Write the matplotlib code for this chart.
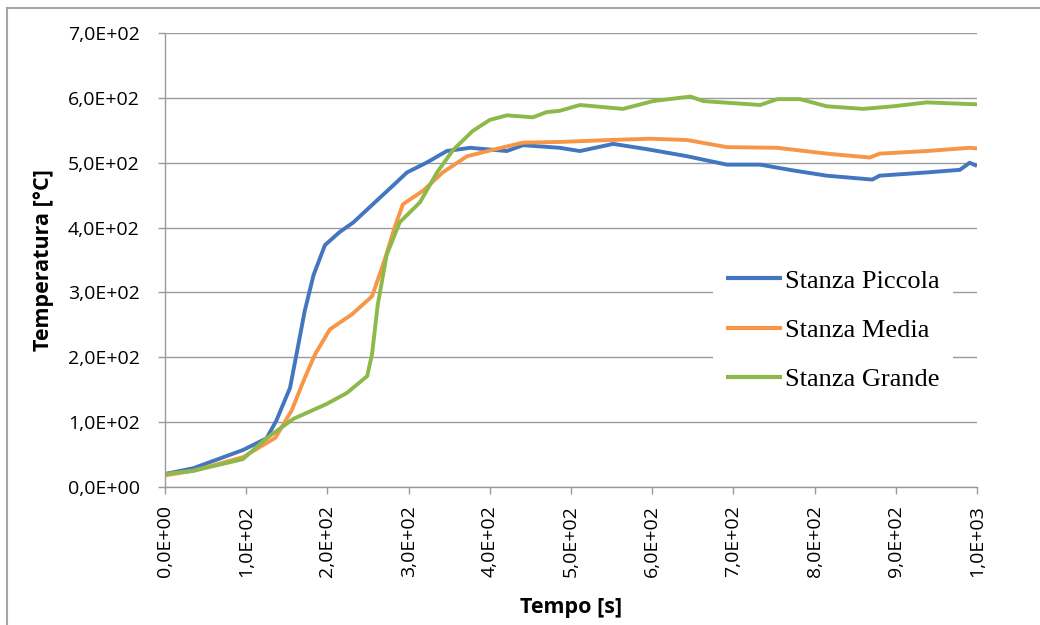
import matplotlib
matplotlib.use("Agg")
import matplotlib.pyplot as plt
from matplotlib.lines import Line2D
from matplotlib.ticker import FuncFormatter, MultipleLocator

# Temperature histories for the three rooms (time in s, temperature in °C)
t_piccola = [0, 35, 96, 125, 137, 154, 162, 172, 183, 197, 215, 232, 256, 281, 298,
             322, 347, 376, 421, 441, 486, 511, 552, 593, 643, 692, 733, 774, 815,
             871, 880, 938, 979, 991, 1000]
T_piccola = [20, 29, 57, 75, 102, 153, 205, 271, 327, 373, 393, 408, 436, 465, 485,
             500, 518, 523, 518, 527, 523, 518, 529, 521, 510, 497, 497, 488, 480,
             474, 480, 485, 489, 500, 495]

t_media = [0, 35, 96, 136, 156, 172, 185, 203, 230, 255, 271, 283, 293, 318, 342,
           372, 404, 441, 486, 548, 597, 643, 692, 754, 815, 868, 880, 938, 991, 1000]
T_media = [18, 25, 46, 76, 118, 168, 205, 243, 266, 294, 352, 401, 436, 457, 485,
           510, 520, 531, 532, 535, 537, 535, 524, 523, 514, 508, 514, 518, 523, 522]

t_grande = [0, 35, 96, 125, 158, 199, 224, 249, 255, 262, 273, 289, 314, 335, 355,
            379, 400, 421, 453, 470, 486, 511, 564, 601, 647, 663, 733, 754, 782,
            815, 860, 897, 938, 1000]
T_grande = [20, 25, 43, 75, 105, 128, 145, 171, 205, 281, 358, 408, 439, 485, 520,
            549, 566, 573, 570, 578, 580, 589, 583, 595, 602, 595, 589, 598, 598,
            587, 583, 587, 593, 590]

series_labels = ["Stanza Piccola", "Stanza Media", "Stanza Grande"]
series_colors = ["#4376BE", "#F79646", "#8DB94A"]

x_label = "Tempo [s]"
y_label = "Temperatura [°C]"

W, H = 1040, 625
fig = plt.figure(figsize=(W / 100, H / 100), dpi=100)
fig.patch.set_facecolor("white")
ax = fig.add_axes([165 / W, 1 - 487 / H, 812 / W, 454 / H])

for t, T, lab, col in zip([t_piccola, t_media, t_grande],
                          [T_piccola, T_media, T_grande],
                          series_labels, series_colors):
    ax.plot(t, T, color=col, lw=2.8, label=lab, solid_joinstyle="round",
            solid_capstyle="butt")

ax.set_xlim(0, 1000)
ax.set_ylim(0, 700)
ax.xaxis.set_major_locator(MultipleLocator(100))
ax.yaxis.set_major_locator(MultipleLocator(100))


def sci_comma(v, pos):
    return f"{v:.1E}".replace(".", ",")


ax.xaxis.set_major_formatter(FuncFormatter(sci_comma))
ax.yaxis.set_major_formatter(FuncFormatter(sci_comma))

ax.grid(axis="y", color="#9a9a9a", lw=1.0)
ax.set_axisbelow(True)
for s in ["top", "right"]:
    ax.spines[s].set_visible(False)
for s in ["left", "bottom"]:
    ax.spines[s].set_color("#9a9a9a")
    ax.spines[s].set_linewidth(1.0)

ax.tick_params(axis="both", colors="#9a9a9a", length=5, width=1.0,
               labelcolor="black")
ax.tick_params(axis="y", pad=13)
ax.tick_params(axis="x", pad=8)
for lbl in ax.get_xticklabels() + ax.get_yticklabels():
    lbl.set_fontfamily("Open Sans")
    lbl.set_fontsize(14)
for lbl in ax.get_xticklabels():
    lbl.set_rotation(90)

ax.set_xlabel(x_label, fontsize=15.5, fontweight="bold", family="Open Sans")
ax.set_ylabel(y_label, fontsize=15.5, fontweight="bold", family="Open Sans")
ax.xaxis.set_label_coords(0.5, -(618 - 487) / 454)
ax.xaxis.label.set_va("bottom")
ax.yaxis.set_label_coords(-(165 - 54) / 812, 0.5)

leg = ax.legend(loc="upper left", bbox_to_anchor=((713 - 165) / 812, (487 - 256) / 454),
                prop={"family": "Liberation Serif", "size": 19},
                frameon=True, facecolor="white", edgecolor="none", framealpha=1,
                handlelength=2.1, handletextpad=0.12, labelspacing=0.98,
                borderpad=0.5, borderaxespad=0)
for line in leg.get_lines():
    line.set_linewidth(3)

# outer frame: only the top and left edges fall inside the canvas
frame_col = "#a6a6a6"
fig.add_artist(Line2D([7 / W, 7 / W], [0, 1 - 8 / H], transform=fig.transFigure,
                      color=frame_col, lw=1.5))
fig.add_artist(Line2D([7 / W, 1], [1 - 8 / H, 1 - 8 / H], transform=fig.transFigure,
                      color=frame_col, lw=1.5))

fig.savefig("out.png", dpi=100, facecolor="white")
